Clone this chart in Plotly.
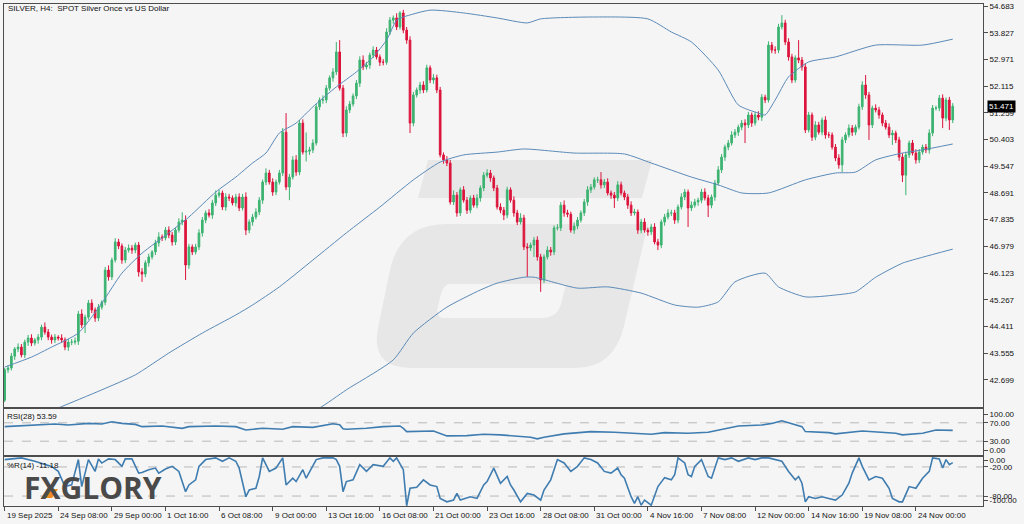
import plotly.graph_objects as go

# ---------------- data ----------------
bar_index = list(range(284))

closes = [
    43.02, 43.08, 43.46, 43.69, 43.75, 43.50, 43.91, 44.04, 43.88, 43.98,
    44.07, 44.39, 44.23, 44.07, 43.98, 44.07, 44.04, 43.98, 43.75, 43.91,
    43.91, 43.94, 44.81, 44.46, 44.71, 45.16, 44.94, 44.68, 45.03, 45.19,
    46.22, 46.00, 46.54, 47.12, 46.99, 46.54, 46.86, 46.92, 46.86, 47.02,
    46.16, 46.09, 46.45, 46.64, 46.80, 47.09, 47.28, 47.25, 47.50, 47.34,
    47.12, 47.50, 47.76, 47.82, 46.38, 46.96, 46.80, 46.96, 47.41, 47.82,
    48.05, 47.98, 48.37, 48.62, 48.69, 48.24, 48.56, 48.53, 48.37, 48.56,
    48.21, 48.56, 47.50, 47.76, 47.92, 48.08, 48.46, 49.04, 49.33, 49.04,
    48.72, 49.04, 49.33, 50.64, 48.88, 49.20, 49.75, 49.36, 50.93, 50.00,
    50.03, 50.07, 50.29, 51.45, 51.67, 51.67, 52.05, 52.38, 52.57, 53.21,
    52.05, 50.61, 51.35, 51.54, 51.80, 52.21, 52.95, 52.73, 52.79, 53.11,
    53.27, 53.05, 52.88, 52.88, 53.85, 54.23, 54.30, 54.01, 54.46, 53.91,
    53.59, 50.93, 51.83, 51.99, 52.15, 51.99, 52.70, 52.31, 52.38, 51.99,
    49.91, 49.75, 49.65, 48.40, 48.62, 48.05, 48.79, 48.46, 48.14, 48.53,
    48.30, 48.53, 48.85, 49.26, 49.33, 49.17, 48.85, 48.24, 48.14, 47.98,
    48.79, 48.46, 48.05, 47.76, 47.89, 46.96, 46.93, 47.02, 47.18, 46.64,
    45.90, 46.64, 46.86, 46.80, 47.57, 47.57, 48.30, 48.05, 48.01, 47.50,
    47.63, 47.82, 48.05, 48.40, 48.79, 48.88, 49.11, 49.11, 48.95, 49.04,
    48.69, 48.62, 48.53, 48.95, 48.69, 48.56, 48.30, 48.05, 48.08, 47.50,
    47.76, 47.50, 47.44, 47.60, 47.12, 47.02, 47.76, 47.92, 48.05, 48.05,
    47.82, 48.24, 48.56, 48.72, 48.21, 48.30, 48.40, 48.46, 48.72, 48.53,
    48.30, 48.56, 49.01, 49.43, 49.84, 50.16, 50.29, 50.55, 50.64, 50.80,
    50.93, 50.87, 51.19, 50.93, 51.19, 51.12, 51.76, 51.67, 53.43, 53.27,
    53.27, 54.01, 54.14, 53.53, 53.05, 52.31, 53.02, 52.95, 52.73, 50.71,
    51.19, 50.48, 50.87, 50.64, 51.03, 50.55, 50.55, 50.16, 49.81, 49.59,
    50.39, 50.55, 50.77, 50.64, 50.80, 51.45, 52.15, 51.83, 50.87, 51.41,
    51.35, 51.19, 50.93, 50.80, 50.55, 50.61, 50.39, 49.84, 49.26, 49.91,
    50.29, 49.97, 49.75, 50.00, 50.16, 50.07, 50.61, 51.41, 51.41, 51.73,
    51.09, 51.67, 51.03, 51.471,
]
first_open = 42.05

wick_up = [
    0.06, 0.08, 0.10, 0.06, 0.12, 0.10, 0.08, 0.10, 0.12, 0.06,
    0.10, 0.08, 0.15, 0.10, 0.08, 0.10, 0.06, 0.12, 0.08, 0.10,
    0.10, 0.12, 0.10, 0.15, 0.08, 0.10, 0.12, 0.08, 0.10, 0.06,
    0.10, 0.15, 0.08, 0.12, 0.10, 0.08, 0.10, 0.12, 0.10, 0.08,
    0.10, 0.12, 0.08, 0.10, 0.06, 0.10, 0.15, 0.08, 0.10, 0.12,
    0.10, 0.08, 0.12, 0.25, 0.15, 0.10, 0.08, 0.10, 0.12, 0.10,
    0.08, 0.12, 0.10, 0.15, 0.10, 0.08, 0.12, 0.10, 0.08, 0.10,
    0.12, 0.10, 0.15, 0.08, 0.10, 0.12, 0.10, 0.08, 0.15, 0.10,
    0.12, 0.08, 0.10, 0.13, 0.61, 0.10, 0.12, 0.15, 0.10, 0.12,
    0.60, 0.10, 0.12, 0.10, 0.08, 0.15, 0.10, 0.08, 0.12, 0.32,
    0.38, 0.10, 0.12, 0.10, 0.08, 0.10, 0.12, 0.15, 0.10, 0.08,
    0.12, 0.10, 0.08, 0.10, 0.12, 0.10, 0.08, 0.15, 0.06, 0.10,
    0.10, 0.12, 0.10, 0.08, 0.10, 0.12, 0.10, 0.08, 0.12, 0.10,
    0.10, 0.08, 0.12, 0.10, 0.15, 0.10, 0.08, 0.12, 0.10, 0.08,
    0.10, 0.12, 0.08, 0.10, 0.12, 0.10, 0.08, 0.10, 0.12, 0.10,
    0.10, 0.08, 0.12, 0.10, 0.15, 0.10, 0.12, 0.08, 0.10, 0.12,
    0.10, 0.08, 0.12, 0.10, 0.08, 0.12, 0.10, 0.15, 0.10, 0.08,
    0.12, 0.10, 0.08, 0.10, 0.12, 0.10, 0.08, 0.10, 0.25, 0.10,
    0.12, 0.08, 0.10, 0.12, 0.10, 0.08, 0.10, 0.12, 0.10, 0.08,
    0.10, 0.12, 0.08, 0.10, 0.12, 0.10, 0.08, 0.10, 0.12, 0.10,
    0.10, 0.08, 0.12, 0.10, 0.08, 0.12, 0.10, 0.08, 0.10, 0.12,
    0.10, 0.08, 0.10, 0.12, 0.10, 0.08, 0.10, 0.12, 0.10, 0.08,
    0.10, 0.12, 0.10, 0.08, 0.10, 0.12, 0.10, 0.08, 0.12, 0.10,
    0.12, 0.10, 0.25, 0.10, 0.12, 0.10, 0.08, 0.57, 0.10, 0.12,
    0.10, 0.08, 0.12, 0.10, 0.08, 0.12, 0.10, 0.08, 0.10, 0.12,
    0.10, 0.08, 0.12, 0.10, 0.08, 0.10, 0.12, 0.32, 0.10, 0.08,
    0.12, 0.10, 0.08, 0.10, 0.12, 0.10, 0.08, 0.10, 0.12, 0.10,
    0.08, 0.10, 0.12, 0.10, 0.08, 0.10, 0.12, 0.10, 0.08, 0.10,
    0.12, 0.08, 0.10, 0.10,
]

wick_dn = [
    0.06, 0.10, 0.08, 0.12, 0.10, 0.08, 0.10, 0.12, 0.10, 0.08,
    0.12, 0.10, 0.08, 0.10, 0.12, 0.10, 0.08, 0.10, 0.10, 0.12,
    0.10, 0.08, 0.12, 0.10, 0.26, 0.08, 0.10, 0.12, 0.10, 0.08,
    0.10, 0.12, 0.10, 0.08, 0.10, 0.12, 0.10, 0.08, 0.12, 0.10,
    0.15, 0.25, 0.10, 0.12, 0.08, 0.10, 0.12, 0.10, 0.08, 0.10,
    0.12, 0.10, 0.08, 0.10, 0.48, 0.12, 0.10, 0.08, 0.10, 0.12,
    0.10, 0.08, 0.12, 0.10, 0.08, 0.10, 0.12, 0.10, 0.08, 0.12,
    0.10, 0.08, 0.16, 0.10, 0.12, 0.08, 0.10, 0.12, 0.10, 0.08,
    0.12, 0.10, 0.08, 0.10, 0.10, 0.42, 0.08, 0.12, 0.10, 0.08,
    0.30, 0.12, 0.10, 0.08, 0.10, 0.12, 0.10, 0.08, 0.12, 0.10,
    0.08, 0.13, 0.12, 0.10, 0.08, 0.10, 0.12, 0.10, 0.08, 0.12,
    0.10, 0.08, 0.12, 0.10, 0.08, 0.10, 0.12, 0.10, 0.08, 0.10,
    0.12, 0.32, 0.10, 0.08, 0.12, 0.10, 0.08, 0.10, 0.12, 0.10,
    0.08, 0.12, 0.10, 0.08, 0.10, 0.12, 0.10, 0.08, 0.12, 0.10,
    0.08, 0.10, 0.12, 0.10, 0.08, 0.12, 0.10, 0.08, 0.10, 0.16,
    0.10, 0.08, 0.12, 0.10, 0.08, 0.10, 0.93, 0.10, 0.38, 0.12,
    0.38, 0.10, 0.08, 0.12, 0.10, 0.08, 0.10, 0.12, 0.10, 0.08,
    0.12, 0.10, 0.08, 0.10, 0.12, 0.10, 0.08, 0.10, 0.12, 0.10,
    0.08, 0.12, 0.32, 0.10, 0.08, 0.10, 0.12, 0.10, 0.08, 0.12,
    0.10, 0.08, 0.12, 0.10, 0.08, 0.16, 0.10, 0.12, 0.08, 0.10,
    0.12, 0.10, 0.08, 0.10, 0.61, 0.10, 0.08, 0.12, 0.10, 0.08,
    0.38, 0.10, 0.12, 0.08, 0.10, 0.12, 0.10, 0.08, 0.10, 0.12,
    0.10, 0.58, 0.10, 0.12, 0.08, 0.10, 0.12, 0.10, 0.08, 0.10,
    0.12, 0.10, 0.08, 0.10, 0.12, 0.10, 0.08, 0.10, 0.12, 0.10,
    0.08, 0.12, 0.10, 0.08, 0.10, 0.12, 0.10, 0.08, 0.10, 0.12,
    0.23, 0.10, 0.08, 0.12, 0.10, 0.08, 0.10, 0.12, 0.48, 0.10,
    0.08, 0.12, 0.10, 0.08, 0.10, 0.32, 0.10, 0.12, 0.22, 0.64,
    0.10, 0.08, 0.12, 0.10, 0.08, 0.10, 0.12, 0.10, 0.08, 0.10,
    0.32, 0.10, 0.32, 0.10,
]

# Bollinger-type envelope lines (bar index, price)
bb_up_bar = [0, 8, 14, 22, 29, 35, 41, 49, 55, 63, 69, 74, 78, 82, 87, 92, 99, 105, 110, 114, 117, 119,
             127, 137, 147, 156, 160, 175, 192, 199, 205, 213, 219, 225, 227, 230, 234, 240, 248, 260, 274, 283]
bb_up_val = [43.11, 43.43, 43.75, 44.20, 45.16, 46.12, 46.76, 47.41, 47.92, 48.72, 49.20, 49.65, 49.97, 50.61,
             50.93, 51.45, 52.09, 52.57, 53.05, 53.59, 54.23, 54.33, 54.55, 54.46, 54.30, 54.14, 54.27, 54.33,
             54.27, 53.85, 53.53, 52.63, 51.51, 51.25, 51.19, 51.67, 52.41, 52.89, 53.05, 53.43, 53.43, 53.62]

bb_mid_bar = [10, 16, 29, 39, 49, 59, 69, 74, 82, 92, 102, 112, 122, 130, 137, 147, 155, 170, 185, 193,
              205, 213, 220, 228, 239, 248, 254, 260, 268, 274, 283]
bb_mid_val = [41.55, 41.80, 42.38, 42.86, 43.56, 44.20, 44.78, 45.10, 45.68, 46.54, 47.41, 48.24, 49.11,
              49.68, 49.91, 50.00, 50.10, 49.97, 49.94, 49.65, 49.20, 48.95, 48.69, 48.69, 49.11, 49.33,
              49.36, 49.75, 49.97, 50.07, 50.26]

bb_lo_bar = [88, 94, 102, 116, 122, 132, 142, 147, 155, 158, 171, 180, 190, 200, 207, 213, 218, 227, 231,
             239, 248, 254, 260, 268, 274, 283]
bb_lo_val = [41.55, 41.80, 42.38, 43.34, 44.20, 45.03, 45.58, 45.80, 45.99, 45.99, 45.64, 45.68, 45.48,
             45.10, 45.03, 45.20, 45.84, 46.12, 45.68, 45.36, 45.42, 45.52, 45.99, 46.44, 46.63, 46.89]

# RSI(28)
rsi_bar = [0, 5, 10, 15, 19, 25, 29, 32, 35, 39, 41, 47, 53, 55, 63, 69, 72, 77, 83, 86, 92, 98, 100, 101,
           102, 108, 113, 118, 119, 120, 128, 130, 132, 138, 143, 148, 153, 157, 159, 161, 167, 175, 182,
           187, 193, 197, 204, 210, 219, 226, 229, 232, 236, 238, 239, 246, 248, 256, 266, 268, 274, 278, 283]
rsi_val = [61.6, 63.1, 65.2, 67.3, 65.2, 68.7, 67.3, 72.3, 68.7, 66.5, 61.6, 63.1, 58.0, 61.6, 63.1, 61.6,
           54.4, 58.0, 55.9, 61.6, 60.0, 68.0, 66.0, 57.0, 55.9, 58.0, 61.6, 63.1, 58.0, 50.9, 52.3, 47.3,
           41.5, 42.2, 45.0, 43.7, 40.0, 38.6, 35.1, 38.6, 45.9, 50.9, 49.4, 47.3, 45.0, 48.7, 47.3, 49.4,
           63.1, 65.2, 68.7, 74.5, 65.2, 61.6, 50.9, 48.7, 45.9, 52.3, 47.3, 43.7, 47.3, 54.4, 53.59]

# Williams %R(14)
wr_bar = [0, 5, 9, 14, 16, 18, 20, 22, 23, 25, 27, 28, 29, 31, 33, 35, 36, 38, 40, 41, 43, 45, 46, 48, 50,
          52, 54, 55, 57, 58, 60, 63, 65, 67, 69, 70, 72, 73, 75, 76, 77, 79, 81, 83, 84, 86, 87, 89, 90,
          93, 95, 98, 99, 100, 101, 102, 104, 106, 108, 110, 113, 115, 116, 117, 119, 120, 121, 123, 125,
          127, 129, 130, 132, 134, 135, 136, 139, 141, 143, 144, 146, 148, 150, 151, 152, 154, 156, 158,
          160, 161, 163, 165, 167, 169, 171, 173, 175, 177, 179, 181, 183, 184, 185, 187, 188, 189, 190,
          191, 193, 194, 195, 197, 199, 200, 201, 203, 204, 205, 206, 208, 210, 211, 213, 215, 217, 219,
          222, 224, 226, 228, 230, 232, 234, 236, 237, 238, 239, 240, 242, 244, 246, 248, 250, 252, 253,
          255, 256, 258, 260, 262, 264, 265, 267, 268, 270, 272, 274, 276, 277, 279, 280, 281, 282, 283]
wr_val = [-5, -1.3, -8.3, -18.8, -29, -60.5, -57, -4.8, -60.5, -4.8, -29, -3.4, -12, -3.4, -4.8, -18.8,
          -3.4, -3.4, -32.7, -31.3, -25.7, -22.3, -32.7, -24.4, -18.8, -29.2, -71, -57, -46.6, -18.8, -4.8,
          -1.3, -8.3, -1.3, -8.3, -22.3, -81.4, -67.5, -64, -39.7, -1.3, -29.2, -22.3, -1.3, -57.1, -43.2,
          -50.1, -25.7, -43.2, -4.8, -1.3, -1.3, -4.8, -18.8, -71, -50.1, -46.6, -15.3, -29.2, -15.3,
          -18.8, -1.3, -8.3, -1.3, -25.7, -100, -64, -61.9, -46.6, -57.1, -60.5, -84.9, -91.9, -88.4,
          -74.5, -88.4, -81.4, -84.9, -57.1, -50.1, -22.3, -53.6, -39.7, -57.1, -67.5, -91.9, -74.5, -78,
          -88.4, -67.5, -46.6, -4.8, -11.8, -29.2, -18.8, -1.3, -4.8, -11.8, -29.2, -32.7, -22.3, -36.2,
          -43.2, -81.4, -95.3, -81.4, -98.8, -88.4, -98.8, -78, -60.5, -42, -46.6, -36.2, -1.3, -11.8,
          -36.2, -39.7, -18.8, -4.8, -39.7, -43.2, -1.3, -4.8, -1.3, -8.3, -1.3, -4.8, -1.3, -1.3, -4.8,
          -8.3, -29.2, -46.6, -39.7, -53.6, -91.9, -81.4, -84.9, -81.4, -84.9, -88.4, -78, -53.6, -32.7,
          -1.3, -18.8, -46.6, -39.7, -43.2, -64, -84.9, -91.9, -91.9, -60.5, -64, -43.2, -29.2, -1.3, -3.4,
          -22.3, -4.8, -15.3, -11.18]

time_tick_bar = [0, 16, 32, 48, 64, 80, 96, 112, 128, 144, 160, 176, 192, 208, 224, 240, 256, 272]
time_tick_text = ["19 Sep 2025", "24 Sep 08:00", "29 Sep 00:00", "1 Oct 16:00", "6 Oct 08:00",
                  "9 Oct 00:00", "13 Oct 16:00", "16 Oct 08:00", "21 Oct 00:00", "23 Oct 16:00",
                  "28 Oct 08:00", "31 Oct 00:00", "4 Nov 16:00", "7 Nov 08:00", "12 Nov 00:00",
                  "14 Nov 16:00", "19 Nov 08:00", "24 Nov 00:00"]

price_tick_text = ["54.683", "53.827", "52.971", "52.115", "51.259", "50.403", "49.547", "48.691",
                   "47.835", "46.979", "46.123", "45.267", "44.411", "43.555", "42.699"]
last_price = "51.471"
rsi_label_text = "RSI(28) 53.59"
wr_label_text = "%R(14) -11.18"
title_text = "SILVER, H4:\u00a0 SPOT Silver Once vs US Dollar"

# ---------------- derived candle arrays ----------------
opens = [first_open] + closes[:-1]
highs = [round(max(o, c) + w, 3) for o, c, w in zip(opens, closes, wick_up)]
lows = [round(min(o, c) - w, 3) for o, c, w in zip(opens, closes, wick_dn)]

# ---------------- styling / geometry ----------------
W, H = 1024, 524
ML, MR, MT, MB = 4, 41, 4, 18
PW = W - ML - MR
PH = H - MT - MB
BG = "#f5f5f5"
FRAME = "#4d4d4d"
GREEN = "#3cb371"
RED = "#dc143c"
BAND = "#5a8ab8"
IND = "#3f7cb0"
TXT = "#111111"
FONT = "Liberation Sans, Arial, sans-serif"
FS = 8
BAR_PX = 3.35


def px_x(px):
    return (px - ML) / PW


def px_y(py):
    return (H - MB - py) / PH


def path_px(cmds):
    out = []
    for c in cmds:
        if c[0] == "Z":
            out.append("Z")
        else:
            pts = c[1:]
            conv = []
            for i in range(0, len(pts), 2):
                conv.append(f"{px_x(pts[i]):.5f},{px_y(pts[i + 1]):.5f}")
            out.append(c[0] + " " + " ".join(conv))
    return " ".join(out)


XMIN = -0.2
XMAX = XMIN + PW / BAR_PX

fig = go.Figure()
fig.add_trace(go.Candlestick(
    x=bar_index, open=opens, high=highs, low=lows, close=closes,
    increasing=dict(line=dict(color=GREEN, width=1), fillcolor=GREEN),
    decreasing=dict(line=dict(color=RED, width=1), fillcolor=RED),
    whiskerwidth=0, xaxis="x", yaxis="y", hoverinfo="skip", showlegend=False))

for bx, bv in [(bb_up_bar, bb_up_val), (bb_mid_bar, bb_mid_val), (bb_lo_bar, bb_lo_val)]:
    fig.add_trace(go.Scatter(x=bx, y=bv, mode="lines",
                             line=dict(color=BAND, width=1, shape="spline", smoothing=0.6),
                             xaxis="x", yaxis="y", hoverinfo="skip", showlegend=False))

fig.add_trace(go.Scatter(x=rsi_bar, y=rsi_val, mode="lines", line=dict(color=IND, width=1.6),
                         xaxis="x2", yaxis="y2", hoverinfo="skip", showlegend=False))
fig.add_trace(go.Scatter(x=wr_bar, y=wr_val, mode="lines", line=dict(color=IND, width=1.6),
                         xaxis="x3", yaxis="y3", hoverinfo="skip", showlegend=False))

axfont = dict(family=FONT, size=FS, color=TXT)
xcommon = dict(range=[XMIN, XMAX], showgrid=False, zeroline=False, showline=True, linecolor=FRAME,
               linewidth=1, mirror=True, fixedrange=True, showticklabels=False, domain=[0, 1])
ycommon = dict(showgrid=False, zeroline=False, showline=True, linecolor=FRAME, linewidth=1, mirror=True,
               fixedrange=True, side="right", ticks="outside", ticklen=4, tickcolor=FRAME,
               tickfont=axfont, automargin=False)

Y_MAIN = [px_y(407), px_y(MT)]
Y_RSI = [px_y(455), px_y(409)]
Y_WR = [px_y(506), px_y(457)]

fig.update_layout(
    width=W, height=H, autosize=False,
    margin=dict(l=ML, r=MR, t=MT, b=MB),
    paper_bgcolor=BG, plot_bgcolor=BG,
    showlegend=False,
    xaxis=dict(**xcommon, anchor="y", rangeslider=dict(visible=False)),
    xaxis2=dict(**xcommon, anchor="y2"),
    xaxis3=dict(**xcommon, anchor="y3", ticks="outside", tickvals=time_tick_bar, ticklen=4,
                tickcolor=FRAME),
    yaxis=dict(**ycommon, anchor="x", domain=Y_MAIN, range=[41.83, 54.747],
               tickvals=[float(t) for t in price_tick_text], ticktext=price_tick_text),
    yaxis2=dict(**ycommon, anchor="x2", domain=Y_RSI, range=[0, 100],
                tickvals=[88.8, 70, 30, 10], ticktext=["100.00", "70.00", "30.00", "0.00"]),
    yaxis3=dict(**ycommon, anchor="x3", domain=Y_WR, range=[-100.5, 0.5],
                tickvals=[-6.5, -20, -80, -89], ticktext=["0.00", "-20.00", "-80.00", "-100.00"]),
)

shapes = []
WM = "#e7e7e7"
# watermark (light logo behind the candles)
shapes.append(dict(type="path", xref="paper", yref="paper", layer="below", line=dict(width=0),
                   fillcolor=WM,
                   path=path_px([("M", 428, 160), ("L", 652, 160), ("L", 642, 198), ("L", 418, 198), ("Z",)])))
shapes.append(dict(type="path", xref="paper", yref="paper", layer="below", line=dict(width=0),
                   fillcolor=WM,
                   path=path_px([("M", 447, 224), ("L", 648, 224), ("L", 624, 326),
                                 ("Q", 614, 368, 575, 368), ("L", 412, 368), ("Q", 370, 368, 378, 328),
                                 ("L", 390, 270), ("Q", 400, 224, 447, 224), ("Z",)])))
shapes.append(dict(type="path", xref="paper", yref="paper", layer="below", line=dict(width=0),
                   fillcolor=BG,
                   path=path_px([("M", 450, 284), ("L", 566, 284), ("L", 561, 304), ("Q", 557, 318, 542, 318),
                                 ("L", 445, 318), ("Q", 435, 318, 438, 306), ("L", 441, 294),
                                 ("Q", 444, 284, 450, 284), ("Z",)])))
# dashed levels
for v in (70, 30):
    shapes.append(dict(type="line", xref="x2 domain", yref="y2", x0=0, x1=1, y0=v, y1=v,
                       line=dict(color="#b8b8b8", width=1, dash="dash"), layer="below"))
for v in (-20, -80):
    shapes.append(dict(type="line", xref="x3 domain", yref="y3", x0=0, x1=1, y0=v, y1=v,
                       line=dict(color="#b8b8b8", width=1, dash="dash"), layer="below"))
# orange accent of the logo
shapes.append(dict(type="path", xref="paper", yref="paper", layer="above", line=dict(width=0),
                   fillcolor="#f08a24",
                   path=path_px([("M", 51, 489), ("L", 58, 489), ("L", 52, 498), ("L", 45, 498), ("Z",)])))
fig.update_layout(shapes=shapes)

ann = []
ann.append(dict(text=title_text, xref="paper", yref="paper", x=px_x(6), y=px_y(9), xanchor="left",
                yanchor="middle", showarrow=False, font=axfont))
ann.append(dict(text=rsi_label_text, xref="paper", yref="paper", x=px_x(5), y=px_y(417), xanchor="left",
                yanchor="middle", showarrow=False, font=axfont))
ann.append(dict(text=wr_label_text, xref="paper", yref="paper", x=px_x(5), y=px_y(465), xanchor="left",
                yanchor="middle", showarrow=False, font=axfont))
for b, t in zip(time_tick_bar, time_tick_text):
    ann.append(dict(text=t, xref="paper", yref="paper", x=(b - XMIN) / (XMAX - XMIN), y=px_y(515),
                    xanchor="left", yanchor="middle", xshift=0, showarrow=False, font=axfont))
ann.append(dict(text=last_price, xref="paper", yref="y", x=1, y=float(last_price), xanchor="left",
                yanchor="middle", xshift=4, showarrow=False, bgcolor="#000000", borderpad=1,
                font=dict(family=FONT, size=FS, color="#ffffff")))
ann.append(dict(text="<b>FXGLORY</b>", xref="paper", yref="paper", x=px_x(22), y=px_y(487),
                xanchor="left", yanchor="middle", showarrow=False,
                font=dict(family="Open Sans, Lato, sans-serif", size=30, color="#4a4a4a")))
fig.update_layout(annotations=ann)

fig.write_html("out.html", config={"displayModeBar": False},
               post_script="document.body.style.margin='0px';document.body.style.overflow='hidden';")
